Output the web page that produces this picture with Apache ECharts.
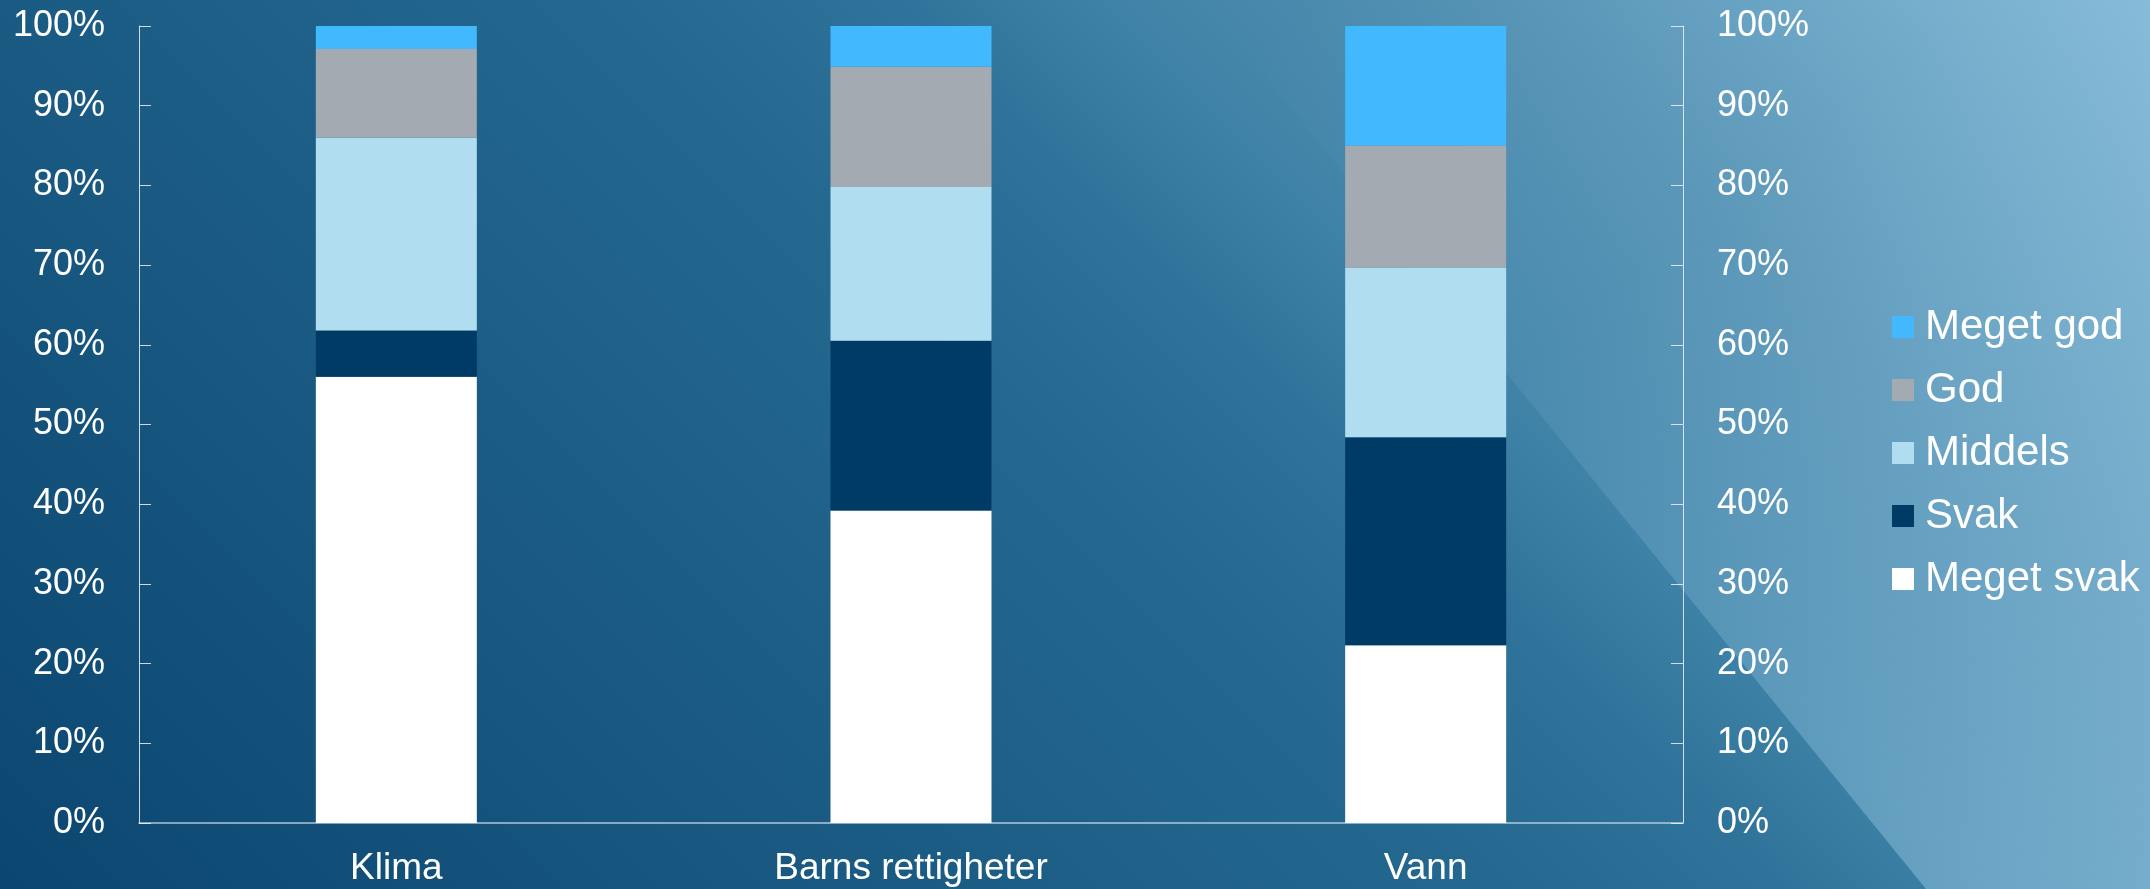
<!DOCTYPE html>
<html lang="no">
<head>
<meta charset="utf-8">
<title>Vurdering per tema</title>
<script src="https://cdn.jsdelivr.net/npm/echarts/dist/echarts.min.js"></script>
<style>
  html, body { margin: 0; padding: 0; width: 2150px; height: 889px; overflow: hidden; }
  #bg {
    position: absolute; left: 0; top: 0; width: 2150px; height: 889px;
    background: linear-gradient(45deg, #0b4670 0%, #246890 48.9%, #2f739a 58.6%, #3f82a7 65.4%, #5592b4 78.6%, #81b8d5 100%);
  }
  #wedge {
    position: absolute; left: 0; top: 0; width: 2150px; height: 889px;
    clip-path: polygon(1203px 0, 2150px 0, 2150px 889px, 1926px 889px);
    background:
      linear-gradient(140.9deg, rgba(170,215,240,0) 40%, rgba(170,215,240,0.08) 60.7%, rgba(170,215,240,0.40) 93.1%, rgba(170,215,240,0.46) 100%),
      linear-gradient(45deg, #0b4670 0%, #246890 48.9%, #2f739a 58.6%, #3f82a7 65.4%, #5592b4 78.6%, #81b8d5 100%);
  }
  #chart { position: absolute; left: 0; top: 0; width: 2150px; height: 889px; }
</style>
</head>
<body>
<div id="bg"></div>
<div id="wedge"></div>
<div id="chart"></div>
<script>
// Categories and share of answers (percent) per rating level
const categories = ['Klima', 'Barns rettigheter', 'Vann'];
const megetSvak = [56.0, 39.2, 22.3];
const svak      = [5.8, 21.3, 26.1];
const middels   = [24.2, 19.3, 21.3];
const god       = [11.1, 15.1, 15.3];
const megetGod  = [2.9, 5.1, 15.0];
const levels = ['Meget svak', 'Svak', 'Middels', 'God', 'Meget god'];

const levelColors = {
  'Meget svak': '#ffffff',
  'Svak': '#003b66',
  'Middels': '#b0def0',
  'God': '#a4aab1',
  'Meget god': '#42b9ff'
};
const levelData = {
  'Meget svak': megetSvak,
  'Svak': svak,
  'Middels': middels,
  'God': god,
  'Meget god': megetGod
};

const font = '"Liberation Sans", Arial, sans-serif';

function valueAxis(position) {
  return {
    type: 'value',
    position: position,
    min: 0,
    max: 100,
    interval: 10,
    axisLine: { show: true, lineStyle: { color: 'rgba(235,242,248,0.85)', width: 1 } },
    axisTick: { show: true, inside: true, length: 12, lineStyle: { color: 'rgba(235,242,248,0.85)', width: 1 } },
    splitLine: { show: false },
    axisLabel: {
      formatter: '{value}%',
      color: '#ffffff',
      fontFamily: font,
      fontSize: 36,
      margin: 34
    }
  };
}

const chart = echarts.init(document.getElementById('chart'), null, { renderer: 'canvas' });

chart.setOption({
  backgroundColor: 'transparent',
  animation: false,
  textStyle: { fontFamily: font },
  grid: { left: 139, right: 467, top: 26, bottom: 66, containLabel: false },
  legend: {
    orient: 'vertical',
    left: 1892,
    top: 306,
    padding: 0,
    itemWidth: 22,
    itemHeight: 22,
    itemGap: 21,
    icon: 'rect',
    data: levels.slice().reverse(),
    textStyle: { color: '#ffffff', fontFamily: font, fontSize: 42, lineHeight: 42, padding: [0, 0, 0, 6] }
  },
  xAxis: {
    type: 'category',
    data: categories,
    axisLine: { show: true, lineStyle: { color: 'rgba(200,218,230,0.85)', width: 1.5 } },
    axisTick: { show: false },
    axisLabel: { color: '#ffffff', fontFamily: font, fontSize: 37, margin: 27 }
  },
  yAxis: [valueAxis('left'), valueAxis('right')],
  series: levels.map(name => ({
    name: name,
    type: 'bar',
    stack: 'total',
    yAxisIndex: 0,
    barWidth: 161,
    itemStyle: { color: levelColors[name] },
    emphasis: { disabled: true },
    data: levelData[name]
  }))
});
</script>
</body>
</html>
